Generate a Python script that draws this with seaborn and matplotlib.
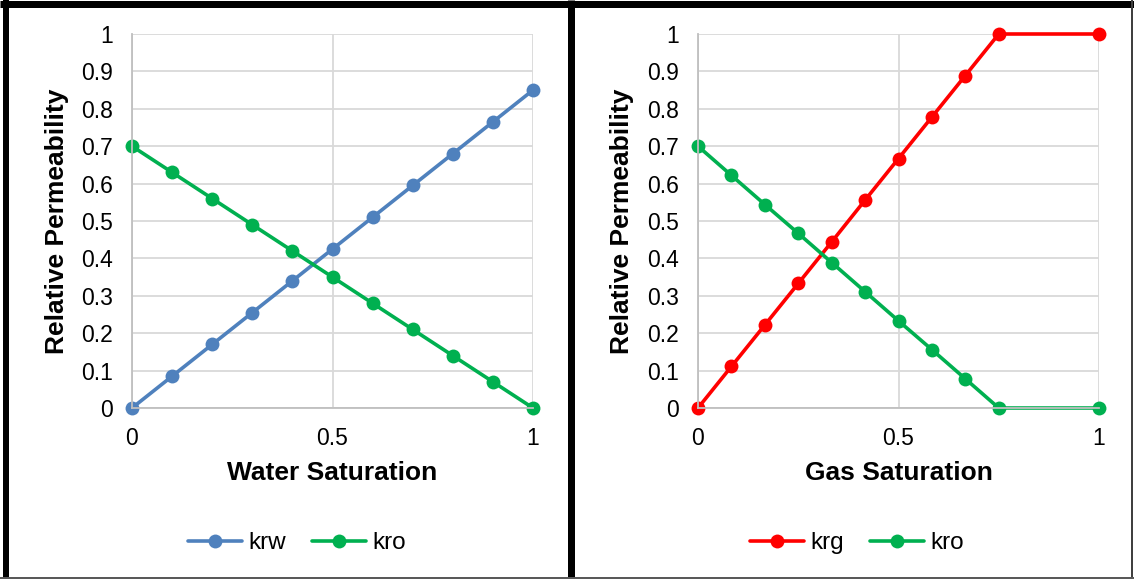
import matplotlib
matplotlib.use("Agg")
import matplotlib.pyplot as plt
from matplotlib.lines import Line2D
import numpy as np
import pandas as pd
import seaborn as sns

# Water-oil system
sw = [0.0, 0.1, 0.2, 0.3, 0.4, 0.5, 0.6, 0.7, 0.8, 0.9, 1.0]
krw = [0.0, 0.085, 0.17, 0.255, 0.34, 0.425, 0.51, 0.595, 0.68, 0.765, 0.85]
kro_w = [0.70, 0.63, 0.56, 0.49, 0.42, 0.35, 0.28, 0.21, 0.14, 0.07, 0.0]

# Gas-oil system
sg = [0.0, 0.0833, 0.1667, 0.25, 0.3333, 0.4167, 0.5, 0.5833, 0.6667, 0.75, 1.0]
krg = [0.0, 0.111, 0.222, 0.333, 0.444, 0.556, 0.667, 0.778, 0.889, 1.0, 1.0]
kro_g = [0.70, 0.622, 0.544, 0.467, 0.389, 0.311, 0.233, 0.156, 0.078, 0.0, 0.0]

yticks = [0, 0.1, 0.2, 0.3, 0.4, 0.5, 0.6, 0.7, 0.8, 0.9, 1]
ytick_labels = ["0", "0.1", "0.2", "0.3", "0.4", "0.5", "0.6", "0.7", "0.8", "0.9", "1"]
xticks = [0, 0.5, 1]
xtick_labels = ["0", "0.5", "1"]

BLUE = "#4F81BD"
GREEN = "#00B050"
RED = "#FF0000"

sns.set_theme(style="white")
plt.rcParams["font.family"] = ["Liberation Sans", "DejaVu Sans"]
plt.rcParams["text.color"] = "black"

W, H = 1134, 579
fig = plt.figure(figsize=(W / 100, H / 100), dpi=100)


def px_axes(x0, x1, y_top, y_bot):
    return fig.add_axes([x0 / W, 1 - y_bot / H, (x1 - x0) / W, (y_bot - y_top) / H])


def style_axes(ax, xlabel, ylabel_x):
    ax.set_xlim(0, 1)
    ax.set_ylim(0, 1)
    ax.set_xticks(xticks)
    ax.set_xticklabels(xtick_labels)
    ax.set_yticks(yticks)
    ax.set_yticklabels(ytick_labels)
    ax.tick_params(axis="both", length=0, labelsize=16.5, colors="black")
    ax.tick_params(axis="x", pad=14)
    ax.tick_params(axis="y", pad=14)
    ax.grid(True, color="#D9D9D9", linewidth=1.3)
    ax.set_axisbelow(True)
    for s in ["top", "right"]:
        ax.spines[s].set_visible(False)
    for s in ["left", "bottom"]:
        ax.spines[s].set_color("#BFBFBF")
        ax.spines[s].set_linewidth(1.3)
    ax.set_xlabel(xlabel, fontsize=19, fontweight="bold", color="black", va="center")
    ax.set_ylabel("Relative Permeability", fontsize=19, fontweight="bold",
                  color="black", va="center")
    ax.xaxis.set_label_coords(0.5, -(473 - 408) / 374)
    ax.yaxis.set_label_coords(ylabel_x, 0.5)


def draw_panel(ax, x, curves, xlabel, legend_center, ylabel_x):
    rows = []
    for name, vals, _ in curves:
        for xv, yv in zip(x, vals):
            rows.append({"s": xv, "kr": yv, "curve": name})
    df = pd.DataFrame(rows)
    palette = {name: col for name, _, col in curves}
    sns.lineplot(data=df, x="s", y="kr", hue="curve", palette=palette, ax=ax,
                 marker="o", markersize=10, markeredgewidth=0, linewidth=2.6,
                 sort=False, legend=False, clip_on=False)
    style_axes(ax, xlabel, ylabel_x)
    handles = [Line2D([0], [0], color=col, lw=2.6, marker="o", markersize=10,
                      markeredgewidth=0) for _, _, col in curves]
    fig.legend(handles, [name for name, _, _ in curves], loc="center",
               bbox_to_anchor=(legend_center / W, 1 - 543 / H), ncol=2,
               frameon=False, fontsize=17.5, handlelength=2.2, handletextpad=0.25,
               columnspacing=1.1)


ax1 = px_axes(132, 533, 34, 408)
draw_panel(ax1, sw, [("krw", krw, BLUE), ("kro", kro_w, GREEN)],
           "Water Saturation", 297, (57 - 132) / 401)

ax2 = px_axes(698, 1099, 34, 408)
draw_panel(ax2, sg, [("krg", krg, RED), ("kro", kro_g, GREEN)],
           "Gas Saturation", 857, (622 - 698) / 401)

# Frames around the two chart panels
def fig_vline(xpx, width_px, color):
    fig.add_artist(Line2D([xpx / W, xpx / W], [0, 1], transform=fig.transFigure,
                          color=color, linewidth=width_px * 0.72, solid_capstyle="butt"))


def fig_hline(ypx, width_px, color):
    fig.add_artist(Line2D([0, 1], [1 - ypx / H, 1 - ypx / H], transform=fig.transFigure,
                          color=color, linewidth=width_px * 0.72, solid_capstyle="butt"))


fig_hline(3.5, 7, "black")
fig_vline(6, 6, "black")
fig_vline(570.5, 7, "black")
fig_vline(1132, 2, "#404040")
fig_hline(577.5, 2, "#595959")

fig.savefig("out.png", dpi=100, facecolor="white")
